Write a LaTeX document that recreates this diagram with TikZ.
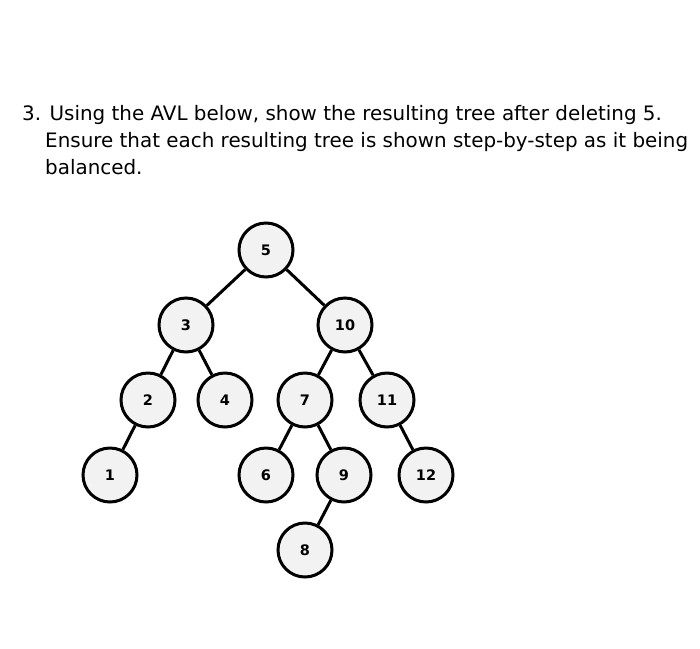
\documentclass[tikz,border=0pt]{standalone}
\usepackage{fontspec}
\setmainfont{DejaVu Sans}
\begin{document}
\begin{tikzpicture}[x=1pt,y=-1pt,
  nd/.style={circle,draw=black,line width=3pt,fill=black!5,minimum size=54pt,inner sep=0pt,font=\fontsize{14.5}{16}\selectfont\bfseries},
  ed/.style={line width=3pt},
  ttl/.style={anchor=base west,inner sep=0pt,font=\fontsize{19.9}{22}\selectfont}]
\useasboundingbox (0,0) rectangle (700,648);
\node[ttl] (l1) at (22,120) {3. Using the AVL below, show the resulting tree after deleting 5.};
\node[ttl] (l2) at (45,147) {Ensure that each resulting tree is shown step-by-step as it being};
\node[ttl] (l3) at (45,174) {balanced.};
\node[nd] (n5) at (266,250) {5};
\node[nd] (n3) at (186,325) {3};
\node[nd] (n10) at (345,325) {10};
\node[nd] (n2) at (148,400) {2};
\node[nd] (n4) at (225,400) {4};
\node[nd] (n7) at (305,400) {7};
\node[nd] (n11) at (387,400) {11};
\node[nd] (n1) at (110,475) {1};
\node[nd] (n6) at (266,475) {6};
\node[nd] (n9) at (344,475) {9};
\node[nd] (n12) at (426,475) {12};
\node[nd] (n8) at (305,550) {8};
\draw[ed] (n5)--(n3) (n5)--(n10) (n3)--(n2) (n3)--(n4) (n2)--(n1)
  (n10)--(n7) (n10)--(n11) (n7)--(n6) (n7)--(n9) (n9)--(n8) (n11)--(n12);
\end{tikzpicture}
\end{document}
